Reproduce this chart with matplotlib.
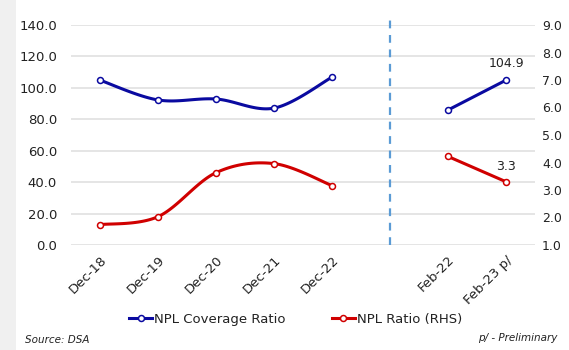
import numpy as np
import matplotlib
matplotlib.use("Agg")
import matplotlib.pyplot as plt
from matplotlib.patches import Rectangle
from matplotlib.lines import Line2D

categories = ["Dec-18", "Dec-19", "Dec-20", "Dec-21", "Dec-22", "", "Feb-22", "Feb-23 p/"]
coverage_annual = [104.9, 92.3, 92.9, 87.1, 106.8]
npl_annual = [1.74, 2.03, 3.63, 3.96, 3.16]
coverage_feb = [85.9, 104.9]
npl_feb = [4.22, 3.3]
left_ticks = [0, 20, 40, 60, 80, 100, 120, 140]
right_ticks = [1, 2, 3, 4, 5, 6, 7, 8, 9]

plt.rcParams['font.family'] = ['DejaVu Sans']

BLUE = "#0a0aa0"
RED = "#d00000"
GRID = "#e0e0e0"
TXT = "#222222"


def smooth(xs, ys, n=30, t=1/6):
    xs = np.asarray(xs, float); ys = np.asarray(ys, float)
    P = np.column_stack([xs, ys])
    out = []
    for i in range(len(P) - 1):
        p0 = P[i - 1] if i > 0 else P[i]
        p1 = P[i]; p2 = P[i + 1]
        p3 = P[i + 2] if i + 2 < len(P) else P[i + 1]
        c1 = p1 + (p2 - p0) * t
        c2 = p2 - (p3 - p1) * t
        s = np.linspace(0, 1, n)[:, None]
        seg = (1 - s) ** 3 * p1 + 3 * (1 - s) ** 2 * s * c1 + 3 * (1 - s) * s ** 2 * c2 + s ** 3 * p2
        out.append(seg if i == 0 else seg[1:])
    a = np.vstack(out)
    return a[:, 0], a[:, 1]


fig = plt.figure(figsize=(5.69, 3.5), dpi=100)
fig.patches.append(Rectangle((0, 0), 16 / 569, 1, transform=fig.transFigure,
                             facecolor="#f0f0f0", edgecolor="none", zorder=-5))

ax = fig.add_axes([71 / 569, 1 - 245 / 350, (535 - 71) / 569, (245 - 25) / 350])
ax2 = ax.twinx()

ax.set_xlim(-0.5, len(categories) - 0.5)
ax.set_ylim(0, 140)
ax2.set_ylim(1, 9)
ax.set_yticks(left_ticks)
ax.set_yticklabels([f"{v:.1f}" for v in left_ticks])
ax2.set_yticks(right_ticks)
ax2.set_yticklabels([f"{v:.1f}" for v in right_ticks])

ax.yaxis.grid(True, color=GRID, lw=1.2)
ax.set_axisbelow(True)
for a in (ax, ax2):
    for s in a.spines.values():
        s.set_visible(False)
    a.tick_params(length=0, labelsize=9.5, colors=TXT)
ax.tick_params(axis='y', pad=10)
ax2.tick_params(axis='y', pad=5, labelsize=9)

x_ann = np.arange(5)
x_feb = np.array([6, 7])
ax.set_xticks(range(len(categories)))
ax.set_xticklabels(categories, rotation=45, ha="right", rotation_mode="anchor", fontsize=9.5)
ax.tick_params(axis='x', pad=6)
for lbl, c in zip(ax.get_xticklabels(), categories):
    if c == "":
        lbl.set_visible(False)

# dashed separator
ax.plot([5, 5], [0, 146], ls=(0, (3.5, 3)), color="#5b9bd5", lw=1.6, clip_on=False, zorder=1)

LW = 2.2
mk = dict(marker="o", ms=4.3, mfc="white", mew=1.1, ls="none", zorder=5)
sx, sy = smooth(x_ann, coverage_annual)
ax.plot(sx, sy, color=BLUE, lw=LW, solid_capstyle="round", zorder=4)
ax.plot(x_feb, coverage_feb, color=BLUE, lw=LW, zorder=4)
ax.plot(x_ann, coverage_annual, mec=BLUE, **mk)
ax.plot(x_feb, coverage_feb, mec=BLUE, **mk)

sx2, sy2 = smooth(x_ann, npl_annual)
ax2.plot(sx2, sy2, color=RED, lw=LW, solid_capstyle="round", zorder=4)
ax2.plot(x_feb, npl_feb, color=RED, lw=LW, zorder=4)
ax2.plot(x_ann, npl_annual, mec=RED, **mk)
ax2.plot(x_feb, npl_feb, mec=RED, **mk)

ax.annotate(f"{coverage_feb[-1]:.1f}", (x_feb[-1], coverage_feb[-1]), xytext=(0, 7),
            textcoords="offset points", ha="center", va="bottom", fontsize=9, color=TXT)
ax2.annotate(f"{npl_feb[-1]:.1f}", (x_feb[-1], npl_feb[-1]), xytext=(0, 6),
             textcoords="offset points", ha="center", va="bottom", fontsize=9, color=TXT)

handles = [Line2D([], [], color=BLUE, lw=LW, marker="o", mfc="white", mec=BLUE, ms=4.3, mew=1.1),
           Line2D([], [], color=RED, lw=LW, marker="o", mfc="white", mec=RED, ms=4.3, mew=1.1)]
fig.legend(handles, ["NPL Coverage Ratio", "NPL Ratio (RHS)"], loc="center",
           bbox_to_anchor=(0.52, 1 - 319 / 350), ncol=2, frameon=False, fontsize=9.5,
           handlelength=1.7, handletextpad=0.2, columnspacing=3.5, labelcolor=TXT)

fig.text(25 / 569, 1 - 340 / 350, "Source: DSA", fontsize=7.5, style="italic", va="center", color=TXT)
fig.text(557 / 569, 1 - 338 / 350, "p/ - Preliminary", fontsize=7.5, style="italic", va="center",
         ha="right", color=TXT)

fig.savefig("out.png", dpi=100)
